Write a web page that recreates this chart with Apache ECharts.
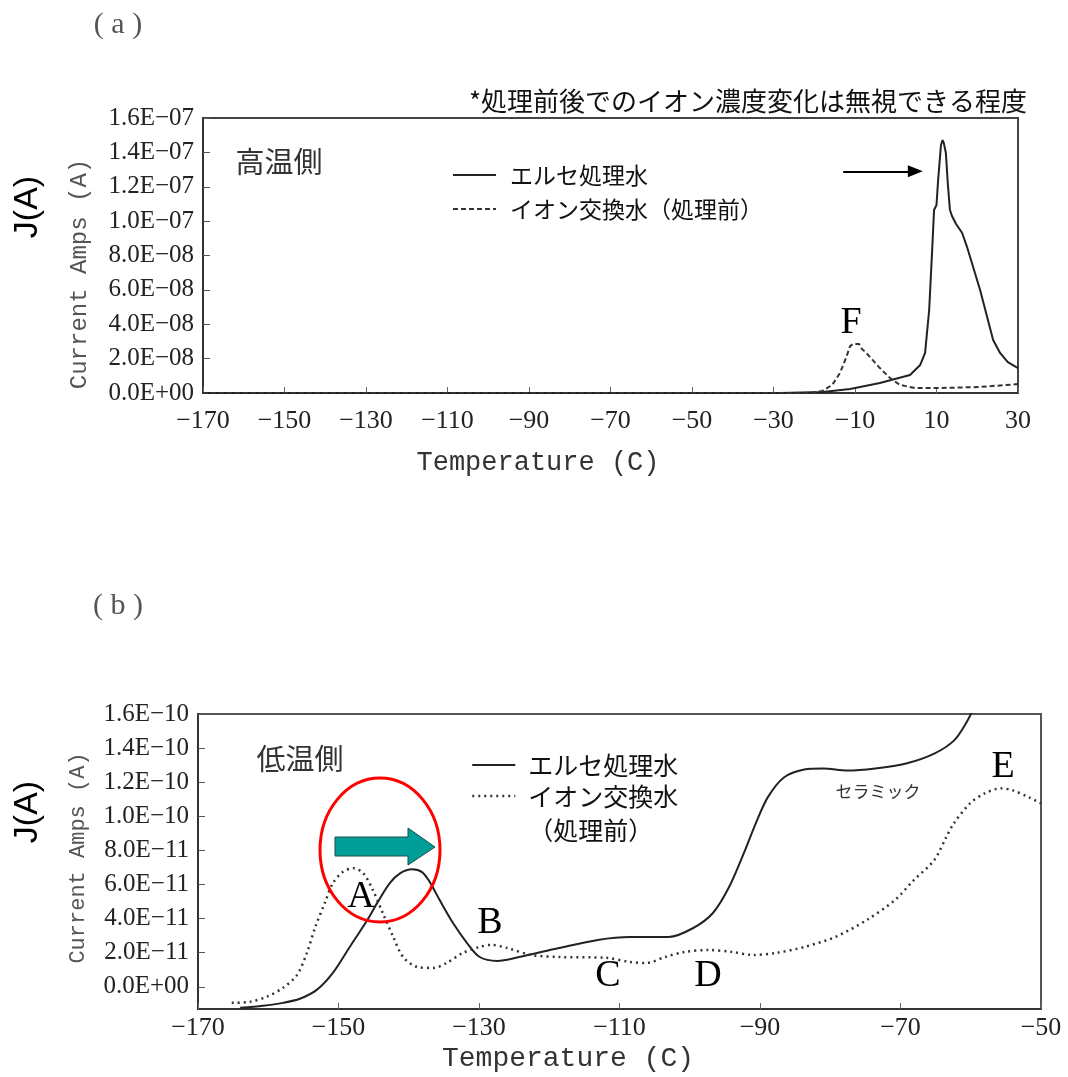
<!DOCTYPE html>
<html>
<head>
<meta charset="utf-8">
<script src="https://cdn.jsdelivr.net/npm/echarts@6/dist/echarts.min.js"></script>
<style>
  html, body { margin: 0; padding: 0; background: #fff; }
  #chart { width: 1068px; height: 1077px; }
</style>
</head>
<body>
<div id="chart"></div>
<script>
// series names
const seriesNames = ['エルセ処理水', 'イオン交換水（処理前）'];

// (a) high temperature side
const tempTicksA = [-170, -150, -130, -110, -90, -70, -50, -30, -10, 10, 30];
const currTicksA = [0, 2e-8, 4e-8, 6e-8, 8e-8, 1.0e-7, 1.2e-7, 1.4e-7, 1.6e-7];

const tempElseA = [-170, -28.4, -17.9, -11.2, -3.9, 3.5, 6.0, 7.2, 8.2, 8.9, 9.4, 10.0, 10.4, 11.1,
  11.5, 11.8, 12.3, 12.8, 13.3, 13.8, 14.8, 16.3, 17.5, 20.7, 23.9, 25.6, 27.5, 30];
const currElseA = [0, 0, 0.06e-8, 0.23e-8, 0.58e-8, 1.05e-8, 1.63e-8, 2.33e-8, 4.83e-8, 8.14e-8, 10.65e-8,
  10.94e-8, 12.39e-8, 14.43e-8, 14.72e-8, 14.54e-8, 13.96e-8, 12.10e-8, 10.65e-8, 10.30e-8, 9.83e-8,
  9.31e-8, 8.49e-8, 5.99e-8, 3.08e-8, 2.33e-8, 1.80e-8, 1.45e-8];

const tempIonA = [-170, -21, -18.0, -15.6, -13.7, -12.2, -11.2, -10.5, -9.0, -8.3, -7.5, -6.3, -3.9,
  -1.4, 1.0, 4.7, 10.9, 20.7, 30];
const currIonA = [0, 0, 0.12e-8, 0.47e-8, 1.16e-8, 2.04e-8, 2.73e-8, 2.85e-8, 2.85e-8, 2.56e-8, 2.39e-8,
  2.09e-8, 1.45e-8, 0.87e-8, 0.47e-8, 0.29e-8, 0.29e-8, 0.35e-8, 0.52e-8];

// arrow pointing at the main peak (temperature from / to, current level)
const arrowTempA = [-12.9, 4.8];
const arrowCurrA = 1.29e-7;

// (b) low temperature side
const tempTicksB = [-170, -150, -130, -110, -90, -70, -50];
const currTicksB = [0, 2e-11, 4e-11, 6e-11, 8e-11, 1.0e-10, 1.2e-10, 1.4e-10, 1.6e-10];

const tempElseB = [-164.0, -160.75, -157.9, -155.5, -153.1, -150.8, -148.4, -145.9, -144.5, -142.7,
  -141.2, -139.5, -138.1, -137.0, -135.6, -133.7, -131.7, -129.9, -127.4, -124.3, -118.6, -113.1,
  -108.5, -103.0, -99.5, -96.7, -94.4, -92.3, -90.6, -88.9, -86.6, -83.7, -81.0, -77.6, -73.6,
  -69.2, -65.2, -62.4, -60.7, -59.4];
const currElseB = [-1.23e-11, -1.11e-11, -0.94e-11, -0.70e-11, -0.18e-11, 0.82e-11, 2.34e-11, 3.92e-11,
  4.91e-11, 6.08e-11, 6.67e-11, 6.90e-11, 6.73e-11, 6.14e-11, 5.09e-11, 3.74e-11, 2.57e-11, 1.75e-11,
  1.52e-11, 1.75e-11, 2.28e-11, 2.75e-11, 2.92e-11, 2.92e-11, 3.45e-11, 4.33e-11, 5.85e-11, 7.84e-11,
  9.59e-11, 11.11e-11, 12.28e-11, 12.75e-11, 12.81e-11, 12.69e-11, 12.81e-11, 13.10e-11, 13.68e-11,
  14.44e-11, 15.44e-11, 16.49e-11];

const tempIonB = [-165.2, -162.6, -160.2, -157.9, -155.9, -154.5, -153.3, -151.9, -150.8, -149.4,
  -147.9, -146.5, -145.1, -143.7, -142.2, -140.8, -138.8, -136.5, -134.6, -132.3, -129.9, -128.3,
  -126.0, -122.6, -118.6, -111.9, -108.5, -106.2, -103.5, -100.7, -97.3, -94.0, -91.1, -87.7, -83.7,
  -79.3, -74.8, -70.8, -68.1, -65.2, -63.5, -62.4, -60.1, -58.0, -55.7, -54.0, -51.7, -50];
const currIonB = [-0.94e-11, -0.88e-11, -0.58e-11, -0.06e-11, 0.70e-11, 1.99e-11, 3.51e-11, 4.97e-11,
  6.08e-11, 6.73e-11, 6.96e-11, 6.67e-11, 5.67e-11, 4.33e-11, 2.92e-11, 1.75e-11, 1.17e-11, 1.11e-11,
  1.40e-11, 1.99e-11, 2.34e-11, 2.46e-11, 2.28e-11, 1.87e-11, 1.75e-11, 1.70e-11, 1.46e-11, 1.40e-11,
  1.75e-11, 2.05e-11, 2.16e-11, 2.05e-11, 1.87e-11, 1.99e-11, 2.34e-11, 2.92e-11, 3.92e-11, 5.09e-11,
  6.26e-11, 7.43e-11, 8.77e-11, 9.59e-11, 10.76e-11, 11.35e-11, 11.64e-11, 11.52e-11, 11.11e-11,
  10.76e-11];

const serif = 'Liberation Serif';
const mono = 'Liberation Mono';
const jp = 'Noto Sans CJK JP';

function zip(xs, ys) {
  return xs.map(function (x, i) { return [x, ys[i]]; });
}

// 1.6E-07 style labels
function sciLabel(v) {
  if (Math.abs(v) < 1e-20) return '0.0E+00';
  let parts = v.toExponential(1).split('e');
  let e = parseInt(parts[1], 10);
  return parts[0] + 'E' + (e < 0 ? '\u2212' : '+') + String(Math.abs(e)).padStart(2, '0');
}

function tempLabel(v) {
  return v < 0 ? '\u2212' + Math.abs(v) : String(v);
}

function xAxisFor(gridIndex, min, max, ticks, margin) {
  return {
    gridIndex: gridIndex,
    type: 'value',
    min: min,
    max: max,
    axisLine: {show: true, onZero: false, lineStyle: {color: '#333', width: 2}},
    axisTick: {show: true, inside: true, length: 6, customValues: ticks, lineStyle: {color: '#666'}},
    axisLabel: {customValues: ticks, formatter: tempLabel, fontFamily: serif, fontSize: 26, color: '#222', margin: margin},
    splitLine: {show: false}
  };
}

function yAxisFor(gridIndex, min, max, ticks) {
  return {
    gridIndex: gridIndex,
    type: 'value',
    min: min,
    max: max,
    axisLine: {show: true, onZero: false, lineStyle: {color: '#333', width: 2}},
    axisTick: {show: true, inside: true, length: 7, customValues: ticks, lineStyle: {color: '#555'}},
    axisLabel: {customValues: ticks, formatter: sciLabel, fontFamily: serif, fontSize: 25, color: '#222', margin: 9},
    splitLine: {show: false}
  };
}

function txt(x, y, text, font, size, color, rotation) {
  return {
    type: 'text',
    x: x,
    y: y,
    rotation: rotation || 0,
    z: 20,
    style: {text: text, fontFamily: font, fontSize: size, fill: color, align: 'center', verticalAlign: 'middle'}
  };
}

let chart = echarts.init(document.getElementById('chart'));

let legendCommon = {
  orient: 'vertical',
  itemWidth: 43,
  itemHeight: 14,
  selectedMode: false,
  itemStyle: {color: 'transparent', borderWidth: 0}
};

chart.setOption({
  animation: false,
  backgroundColor: '#fff',
  grid: [
    {left: 203, top: 118, width: 815, height: 275, show: true, borderColor: '#444', borderWidth: 2},
    {left: 198, top: 714, width: 843, height: 295, show: true, borderColor: '#555', borderWidth: 2}
  ],
  xAxis: [
    xAxisFor(0, -170, 30, tempTicksA, 15),
    xAxisFor(1, -170, -50, tempTicksB, 6)
  ],
  yAxis: [
    yAxisFor(0, 0, 1.6e-7, currTicksA),
    yAxisFor(1, -1.3e-11, 1.6e-10, currTicksB)
  ],
  legend: [
    Object.assign({}, legendCommon, {
      data: [{name: seriesNames[0]}, {name: seriesNames[1]}],
      left: 447,
      top: 156,
      itemGap: 6,
      textStyle: {fontFamily: jp, fontSize: 23, color: '#111', lineHeight: 28, padding: [0, 0, 0, 9]}
    }),
    Object.assign({}, legendCommon, {
      data: [
        {name: seriesNames[0]},
        {name: seriesNames[1], lineStyle: {type: [2, 4], width: 2.5}}
      ],
      // blank first line keeps the icon level with the first line of the wrapped name
      formatter: function (name) {
        return name === seriesNames[1] ? '{s|}\n{a|イオン交換水}\n{a|（処理前）}' : name;
      },
      left: 466,
      top: 740,
      itemGap: -35,
      textStyle: {
        fontFamily: jp, fontSize: 25, color: '#111', lineHeight: 30, padding: [0, 0, 0, 8],
        rich: {
          a: {fontFamily: jp, fontSize: 25, color: '#111', lineHeight: 34},
          s: {fontSize: 25, lineHeight: 34}
        }
      }
    })
  ],
  series: [
    {
      name: seriesNames[0],
      type: 'line',
      xAxisIndex: 0,
      yAxisIndex: 0,
      data: zip(tempElseA, currElseA),
      symbol: 'none',
      itemStyle: {color: '#222'},
      lineStyle: {color: '#222', width: 2},
      markLine: {
        silent: true,
        symbol: ['none', 'triangle'],
        symbolSize: [12, 15],
        label: {show: false},
        lineStyle: {color: '#000', width: 2, type: 'solid'},
        data: [[{coord: [arrowTempA[0], arrowCurrA]}, {coord: [arrowTempA[1], arrowCurrA]}]]
      }
    },
    {
      name: seriesNames[1],
      type: 'line',
      xAxisIndex: 0,
      yAxisIndex: 0,
      data: zip(tempIonA, currIonA),
      symbol: 'none',
      itemStyle: {color: '#333'},
      lineStyle: {color: '#333', width: 2, type: [5, 3]}
    },
    {
      name: seriesNames[0],
      type: 'line',
      xAxisIndex: 1,
      yAxisIndex: 1,
      data: zip(tempElseB, currElseB),
      symbol: 'none',
      smooth: 0.3,
      itemStyle: {color: '#222'},
      lineStyle: {color: '#222', width: 2}
    },
    {
      name: seriesNames[1],
      type: 'line',
      xAxisIndex: 1,
      yAxisIndex: 1,
      data: zip(tempIonB, currIonB),
      symbol: 'none',
      smooth: 0.3,
      itemStyle: {color: '#333'},
      lineStyle: {color: '#333', width: 2.5, type: [2, 4]}
    }
  ],
  graphic: [
    txt(118, 25, '( a )', serif, 30, '#555'),
    txt(118, 606, '( b )', serif, 30, '#555'),
    txt(748, 101, '*処理前後でのイオン濃度変化は無視できる程度', jp, 26, '#111'),
    txt(28, 207, 'J(A)', 'Liberation Sans', 34, '#000', Math.PI / 2),
    txt(28, 812, 'J(A)', 'Liberation Sans', 34, '#000', Math.PI / 2),
    txt(80, 274, 'Current Amps (A)', mono, 24, '#555', Math.PI / 2),
    txt(78, 858, 'Current Amps (A)', mono, 22, '#555', Math.PI / 2),
    txt(538, 463, 'Temperature (C)', mono, 27, '#333'),
    txt(568, 1059, 'Temperature (C)', mono, 28, '#333'),
    txt(279, 162, '高温側', jp, 29, '#333'),
    txt(300, 759, '低温側', jp, 29, '#333'),
    txt(878, 792, 'セラミック', jp, 17, '#333'),
    txt(851, 323, 'F', serif, 38, '#000'),
    txt(361, 897, 'A', serif, 38, '#000'),
    txt(490, 923, 'B', serif, 38, '#000'),
    txt(608, 976, 'C', serif, 38, '#000'),
    txt(708, 976, 'D', serif, 38, '#000'),
    txt(1003, 767, 'E', serif, 38, '#000'),
    {
      type: 'polygon',
      z: 21,
      shape: {points: [[335, 837], [408, 837], [408, 828], [435, 847], [408, 865], [408, 856], [335, 856]]},
      style: {fill: '#009e98', stroke: '#1d4d4a', lineWidth: 1}
    },
    {
      type: 'ellipse',
      z: 22,
      shape: {cx: 380, cy: 850, rx: 60, ry: 72},
      style: {fill: 'none', stroke: '#ff0000', lineWidth: 3}
    }
  ]
});
</script>
</body>
</html>
